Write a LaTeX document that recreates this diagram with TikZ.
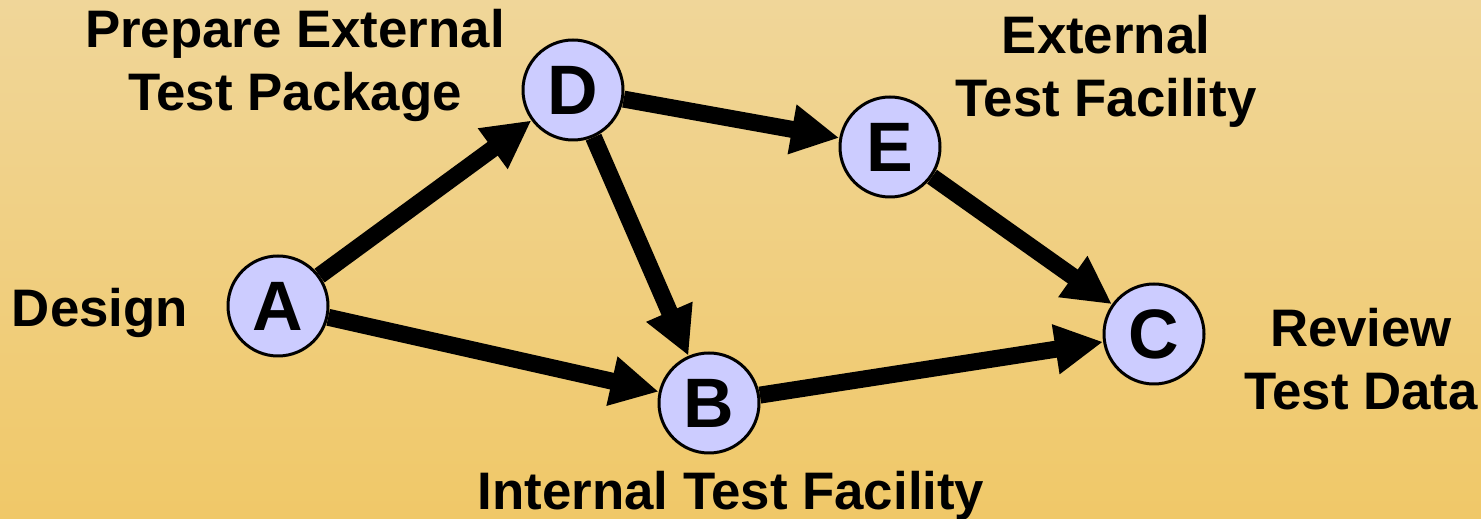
\documentclass[tikz,border=0pt]{standalone}
\usepackage{fontspec}
\setmainfont{Liberation Sans}
\usetikzlibrary{arrows.meta}
\definecolor{bgtop}{RGB}{240,214,153}
\definecolor{bgbot}{RGB}{240,200,104}
\definecolor{nodefill}{RGB}{204,204,255}
\tikzset{
  event/.style={circle,draw=black,line width=3pt,fill=nodefill,minimum size=100pt,
    inner sep=0pt,font=\fontsize{70}{70}\selectfont\bfseries},
  task/.style={align=center,inner sep=0pt,font=\fontsize{52.8}{63}\selectfont\bfseries},
  link/.style={line width=17pt,-{Triangle[length=48pt,width=47pt]}}
}
\begin{document}
\begin{tikzpicture}[x=1pt,y=1pt]
\shade[top color=bgtop,bottom color=bgbot] (0,0) rectangle (1481,519);
\useasboundingbox (0,0) rectangle (1481,519);
% events
\node[event] (A) at (278,213) {A};
\node[event] (D) at (573,429) {D};
\node[event] (B) at (709,116) {B};
\node[event] (E) at (890,372) {E};
\node[event] (C) at (1154,185) {C};
% activities
\draw[link] (A) -- (D);
\draw[link] (A) -- (B);
\draw[link] (D) -- (B);
\draw[link] (D) -- (E);
\draw[link] (E) -- (C);
\draw[link] (B) -- (C);
% labels
\node[task] (design) at (100,206) {Design};
\node[task] (prep) at (295,454) {Prepare External\\Test Package};
\node[task] (ext) at (1106,448) {External\\Test Facility};
\node[task] (review) at (1361,160) {Review\\Test Data};
\node[task] (int) at (731,23) {Internal Test Facility};
\end{tikzpicture}
\end{document}
